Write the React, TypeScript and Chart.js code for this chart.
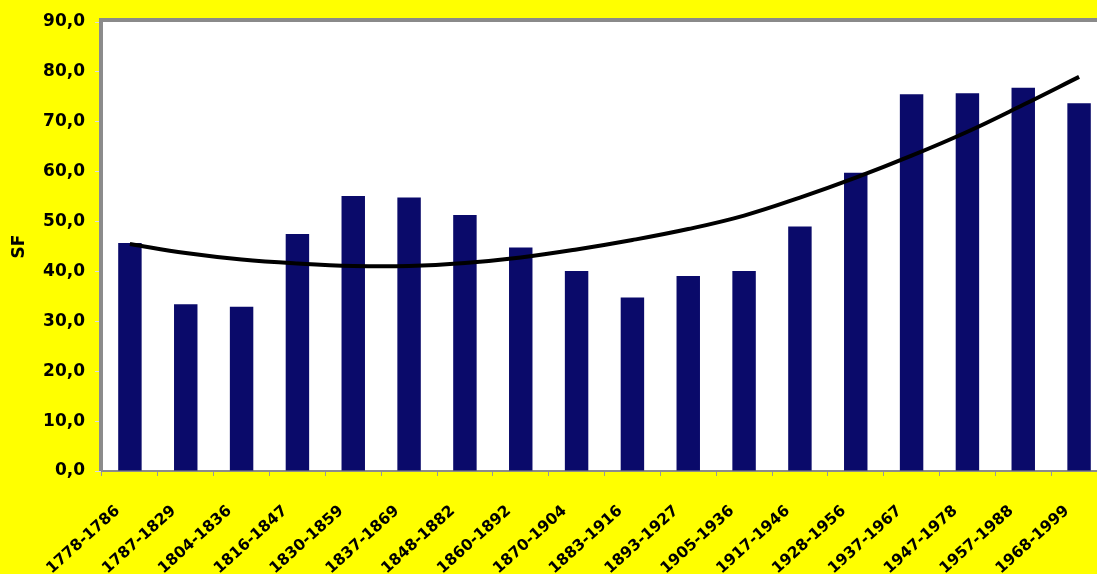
import React, { useEffect, useRef } from "react";
import { Chart, registerables } from "chart.js";

Chart.register(...registerables);

const categories = [
  "1778-1786", "1787-1829", "1804-1836", "1816-1847", "1830-1859", "1837-1869",
  "1848-1882", "1860-1892", "1870-1904", "1883-1916", "1893-1927", "1905-1936",
  "1917-1946", "1928-1956", "1937-1967", "1947-1978", "1957-1988", "1968-1999",
];
const sfValues = [
  45.7, 33.4, 32.9, 47.5, 55.1, 54.8, 51.3, 44.8, 40.1, 34.8, 39.1, 40.1,
  49.0, 59.8, 75.5, 75.7, 76.8, 73.7,
];
const trendValues = [
  45.5, 43.7, 42.4, 41.6, 41.1, 41.1, 41.7, 42.8, 44.4, 46.3, 48.5, 51.2,
  54.8, 58.8, 63.2, 68.0, 73.4, 79.0,
];
const yMin = 0;
const yMax = 90;
const yStep = 10;
const yTitle = "SF";

const FONT = "'DejaVu Sans', 'Liberation Sans', Arial, sans-serif";

const plotBg = {
  id: "plotBg",
  beforeDraw(chart: any) {
    const { ctx, chartArea, width, height } = chart;
    ctx.save();
    ctx.fillStyle = "#ffff00";
    ctx.fillRect(0, 0, width, height);
    ctx.fillStyle = "#ffffff";
    ctx.fillRect(chartArea.left, chartArea.top, chartArea.right - chartArea.left, chartArea.bottom - chartArea.top);
    ctx.restore();
  },
  afterDraw(chart: any) {
    const { ctx, chartArea } = chart;
    ctx.save();
    ctx.fillStyle = "#8a8a8a";
    ctx.fillRect(chartArea.left - 3, chartArea.top - 4, chartArea.right - chartArea.left + 6, 4);
    ctx.fillRect(chartArea.left - 3, chartArea.top - 4, 2, chartArea.bottom - chartArea.top + 4);
    ctx.restore();
  },
};

export default function App() {
  const ref = useRef<HTMLCanvasElement>(null);
  useEffect(() => {
    const chart = new Chart(ref.current!, {
      type: "bar",
      data: {
        labels: categories,
        datasets: [
          {
            type: "line",
            label: "Trend",
            data: trendValues,
            borderColor: "#000000",
            borderWidth: 4,
            pointRadius: 0,
            tension: 0.4,
            fill: false,
            order: 0,
          } as any,
          {
            type: "bar",
            label: "SF",
            data: sfValues,
            backgroundColor: "#0a0a6a",
            borderWidth: 0,
            categoryPercentage: 1,
            barPercentage: 0.42,
            order: 1,
          },
        ],
      },
      plugins: [plotBg],
      options: {
        animation: false,
        responsive: true,
        maintainAspectRatio: false,
        layout: { padding: { left: 0, top: 22, right: 13, bottom: 0 } },
        plugins: { legend: { display: false }, tooltip: { enabled: false } },
        scales: {
          x: {
            offset: true,
            grid: { offset: true, drawOnChartArea: false, tickLength: 5, color: "#9a9a9a" },
            border: { display: true, color: "#8c8c8c", width: 2 },
            ticks: {
              autoSkip: false,
              minRotation: 42,
              maxRotation: 42,
              padding: 26,
              labelOffset: -12,
              color: "#000000",
              font: { family: FONT, size: 15.5, weight: "bold" },
            },
            afterFit(scale: any) {
              scale.height = 103;
              scale.paddingLeft = 0;
              scale.paddingRight = 0;
            },
          },
          y: {
            min: yMin,
            max: yMax,
            grid: { drawOnChartArea: false, tickLength: 7, color: "#dcdcdc" },
            border: { display: true, color: "#8c8c8c", width: 2 },
            ticks: {
              stepSize: yStep,
              padding: 10,
              color: "#000000",
              font: { family: FONT, size: 17, weight: "bold" },
              callback: (v: any) => Number(v).toFixed(1).replace(".", ","),
            },
            title: {
              display: true,
              text: yTitle,
              color: "#000000",
              padding: { top: 9, bottom: 0 },
              font: { family: FONT, size: 17, weight: "bold" },
            },
            afterFit(scale: any) {
              scale.width = 102;
            },
          },
        },
      },
    });
    return () => chart.destroy();
  }, []);
  return (
    <div style={{ position: "fixed", left: 0, top: 0, width: "100vw", height: "100vh", overflow: "hidden", background: "#ffff00" }}>
      <div style={{ width: 1120, height: 574, position: "relative" }}>
        <canvas ref={ref} />
      </div>
    </div>
  );
}
